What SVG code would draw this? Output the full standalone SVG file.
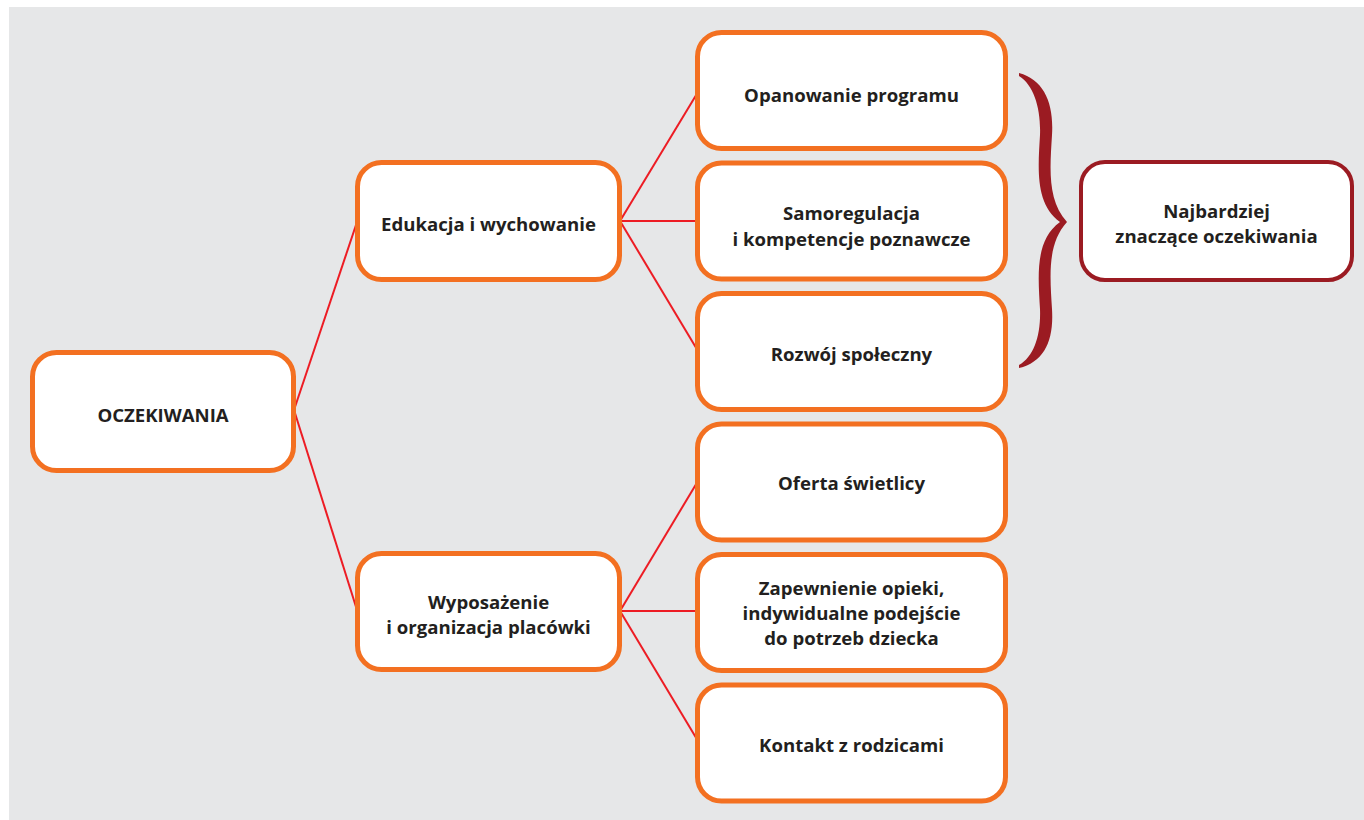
<svg xmlns="http://www.w3.org/2000/svg" width="1364" height="820" viewBox="0 0 1364 820">
<style>
.box{fill:#ffffff;stroke:#f37021;stroke-width:5}
.key{fill:#ffffff;stroke:#9b1b22;stroke-width:4}
.lbl{font-family:"Open Sans","Liberation Sans",sans-serif;font-weight:700;font-size:18.6px;fill:#231f20;text-anchor:middle}
.conn{stroke:#ed1c24;stroke-width:2;fill:none}
</style>
<rect x="0" y="0" width="1364" height="820" fill="#ffffff"/>
<rect x="9" y="7" width="1355" height="813" fill="#e6e7e8"/>
<g id="connectors">
<line class="conn" x1="294" y1="410" x2="357" y2="222"/>
<line class="conn" x1="294" y1="410" x2="357" y2="610"/>
<line class="conn" x1="620" y1="221" x2="698" y2="92"/>
<line class="conn" x1="620" y1="221" x2="698" y2="221"/>
<line class="conn" x1="620" y1="221" x2="698" y2="351"/>
<line class="conn" x1="620" y1="611" x2="698" y2="481"/>
<line class="conn" x1="620" y1="611" x2="698" y2="611"/>
<line class="conn" x1="620" y1="611" x2="698" y2="741"/>
</g>
<g id="node-oczekiwania">
<rect class="box" x="32.5" y="352.5" width="261" height="118" rx="24"/>
<text class="lbl" x="163" y="422">OCZEKIWANIA</text>
</g>
<g id="node-edukacja">
<rect class="box" x="357.5" y="162.5" width="262" height="117" rx="24"/>
<text class="lbl" x="488.5" y="231">Edukacja i wychowanie</text>
</g>
<g id="node-wyposazenie">
<rect class="box" x="357.5" y="553.5" width="262" height="116" rx="24"/>
<text class="lbl" x="488.5" y="609">Wyposażenie</text>
<text class="lbl" x="488.5" y="634">i organizacja placówki</text>
</g>
<g id="node-opanowanie">
<rect class="box" x="697.5" y="32.5" width="308" height="116" rx="24"/>
<text class="lbl" x="851.5" y="102">Opanowanie programu</text>
</g>
<g id="node-samoregulacja">
<rect class="box" x="697.5" y="163" width="308" height="116" rx="24"/>
<text class="lbl" x="851.5" y="220">Samoregulacja</text>
<text class="lbl" x="851.5" y="246">i kompetencje poznawcze</text>
</g>
<g id="node-rozwoj">
<rect class="box" x="697.5" y="293.5" width="308" height="116" rx="24"/>
<text class="lbl" x="851.5" y="361">Rozwój społeczny</text>
</g>
<g id="node-oferta">
<rect class="box" x="697.5" y="424" width="308" height="116" rx="24"/>
<text class="lbl" x="851.5" y="490">Oferta świetlicy</text>
</g>
<g id="node-zapewnienie">
<rect class="box" x="697.5" y="554.5" width="308" height="116" rx="24"/>
<text class="lbl" x="851.5" y="595">Zapewnienie opieki,</text>
<text class="lbl" x="851.5" y="620">indywidualne podejście</text>
<text class="lbl" x="851.5" y="645">do potrzeb dziecka</text>
</g>
<g id="node-kontakt">
<rect class="box" x="697.5" y="685" width="308" height="116" rx="24"/>
<text class="lbl" x="851.5" y="752">Kontakt z rodzicami</text>
</g>
<g id="brace">
<path fill="#9b1b22" d="M1019,73 C1044,80 1054,103 1052,135 C1050,168 1047,200 1067,222 C1047,244 1050,276 1052,309 C1054,341 1044,362 1019,368 L1019,365 C1034,357 1041,335 1040,309 C1038,275 1035,240 1060,222 C1035,204 1038,169 1040,135 C1041,109 1034,85 1019,76 Z"/>
</g>
<g id="node-najbardziej">
<rect class="key" x="1081" y="162" width="271" height="118" rx="24"/>
<text class="lbl" x="1216.5" y="218">Najbardziej</text>
<text class="lbl" x="1216.5" y="243">znaczące oczekiwania</text>
</g>
</svg>
